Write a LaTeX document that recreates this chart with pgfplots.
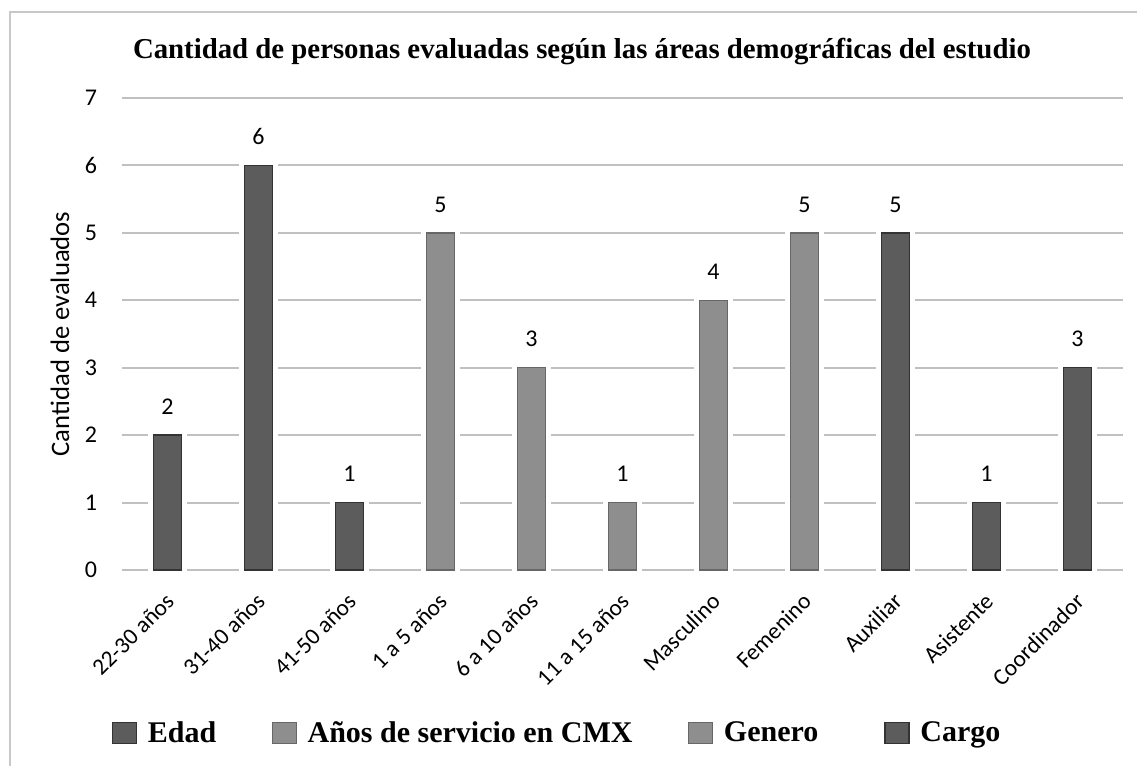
\documentclass[border=0pt]{standalone}
\usepackage{pgfplots}
\pgfplotsset{compat=1.18}
\usepackage{fontspec}
\setmainfont{Carlito}
\newfontfamily\tnr{Liberation Serif}
\definecolor{darkbar}{HTML}{5C5C5C}
\definecolor{darkedge}{HTML}{333333}
\definecolor{lightbar}{HTML}{8E8E8E}
\definecolor{lightedge}{HTML}{676767}
\definecolor{gridc}{HTML}{C0C0C0}
\definecolor{framec}{HTML}{C8C8C8}
\begin{document}
\begin{tikzpicture}[x=0.75pt,y=0.75pt]
\useasboundingbox (0,0) rectangle (1137,765);
\draw[framec, line width=1.5pt] (10,-10) -- (10,753) -- (1150,753);
\node[font=\tnr\bfseries\fontsize{21.6}{25}\selectfont, anchor=base] at (582,706) {Cantidad de personas evaluadas según las áreas demográficas del estudio};
\begin{axis}[
  at={(91.5pt,146.25pt)}, anchor=south west,
  scale only axis, width=750.75pt, height=354pt,
  ymin=0, ymax=7, xmin=-0.5, xmax=10.5,
  ytick={0,...,7}, xtick={0,...,10},
  xticklabels={22-30 años, 31-40 años, 41-50 años, 1 a 5 años, 6 a 10 años, 11 a 15 años, Masculino, Femenino, Auxiliar, Asistente, Coordinador},
  ymajorgrids, major grid style={draw=gridc, line width=1.5pt},
  axis line style={draw=none}, major tick length=0pt,
  /pgf/number format/assume math mode=true,
  yticklabel style={font=\fontsize{18}{21}\selectfont, anchor=east, inner sep=0pt, xshift=-18.5pt},
  xticklabel style={font=\fontsize{17.5}{20}\selectfont, xshift=2pt, yshift=-20.5pt, rotate=45, anchor=east, inner sep=0pt},
  ylabel={Cantidad de evaluados},
  every axis y label/.style={at={(axis description cs:-0.062,0.5)}, rotate=90, anchor=center, font=\fontsize{20}{23}\selectfont},
  ybar, bar width=21pt,
  nodes near coords,
  every node near coord/.append style={font=\fontsize{18}{21}\selectfont, anchor=south, inner sep=0pt, yshift=15pt},
  legend columns=-1,
  legend style={at={(axis description cs:-0.015,-0.345)}, anchor=west, draw=none, fill=none, inner sep=0pt,
    font=\tnr\bfseries\fontsize{22.5}{26}\selectfont,
    /tikz/every odd column/.append style={column sep=2.5pt},
    /tikz/every even column/.append style={column sep=36pt}},
  legend image code/.code={\draw[#1, line width=0.8pt] (0pt,-7.9pt) rectangle (18pt,7.9pt);},
]
\addplot[bar shift=0pt, fill=darkbar, draw=darkedge, line width=1pt, preaction={draw=white, line width=8pt}] coordinates {(0,2) (1,6) (2,1)};
\addlegendentry{Edad}
\addplot[bar shift=0pt, fill=lightbar, draw=lightedge, line width=1pt, preaction={draw=white, line width=8pt}] coordinates {(3,5) (4,3) (5,1)};
\addlegendentry{Años de servicio en CMX}
\addplot[bar shift=0pt, fill=lightbar, draw=lightedge, line width=1pt, preaction={draw=white, line width=8pt}] coordinates {(6,4) (7,5)};
\addlegendentry{Genero\rule{8pt}{0pt}}
\addplot[bar shift=0pt, fill=darkbar, draw=darkedge, line width=1pt, preaction={draw=white, line width=8pt}] coordinates {(8,5) (9,1) (10,3)};
\addlegendentry{Cargo}
\end{axis}
\end{tikzpicture}
\end{document}
